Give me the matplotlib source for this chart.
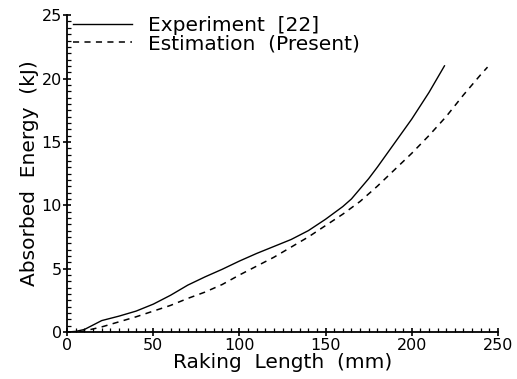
import matplotlib
matplotlib.use("Agg")
import matplotlib.pyplot as plt
from matplotlib.ticker import MultipleLocator

# Experiment [22] curve
exp_x = [0, 5, 10, 20, 30, 40, 50, 60, 70, 80, 90, 100, 110, 120, 130,
         140, 150, 160, 165, 170, 175, 180, 190, 200, 210, 219]
exp_y = [0, 0.05, 0.2, 0.9, 1.25, 1.65, 2.2, 2.9, 3.7, 4.35, 4.95, 5.6, 6.2,
         6.75, 7.3, 8.0, 8.9, 9.9, 10.5, 11.3, 12.1, 13.0, 14.9, 16.8, 18.9, 21.0]

# Estimation (Present) curve
est_x = [7, 10, 20, 30, 40, 50, 60, 70, 80, 90, 100, 110, 120, 130, 140,
         150, 160, 170, 180, 190, 200, 210, 220, 230, 240, 244]
est_y = [0, 0.08, 0.4, 0.8, 1.2, 1.65, 2.1, 2.65, 3.15, 3.75, 4.5, 5.2, 5.9,
         6.7, 7.5, 8.4, 9.3, 10.3, 11.5, 12.8, 14.1, 15.5, 17.0, 18.7, 20.3, 20.9]

x_ticks = [0, 50, 100, 150, 200, 250]
y_ticks = [0, 5, 10, 15, 20, 25]

fig = plt.figure(figsize=(5.17, 3.79), dpi=100)
ax = fig.add_axes([0.130, 0.124, 0.833, 0.836])

ax.plot(exp_x, exp_y, color="black", lw=1.0, label="Experiment  [22]")
ax.plot(est_x, est_y, color="black", lw=1.1, linestyle=(0, (4, 3.5)),
        label="Estimation  (Present)")

ax.set_xlim(0, 250)
ax.set_ylim(0, 25)
ax.set_xticks(x_ticks)
ax.set_yticks(y_ticks)
ax.xaxis.set_minor_locator(MultipleLocator(5))
ax.yaxis.set_minor_locator(MultipleLocator(0.5))
ax.tick_params(which="major", direction="inout", length=6, width=1.2,
               labelsize=11.5, pad=1)
ax.tick_params(which="minor", direction="in", length=3, width=0.9)

for side in ["top", "right"]:
    ax.spines[side].set_visible(False)
for side in ["left", "bottom"]:
    ax.spines[side].set_linewidth(1.3)

ax.set_xlabel("Raking  Length  (mm)", fontsize=14.5, labelpad=0.5)
ax.set_ylabel("Absorbed  Energy  (kJ)", fontsize=14.5, labelpad=2)

ax.legend(loc="upper left", bbox_to_anchor=(-0.014, 1.035), frameon=False,
          fontsize=14.5, handlelength=2.9, handletextpad=0.8,
          labelspacing=-0.05, borderaxespad=0.2)

fig.savefig("out.png", dpi=100)
